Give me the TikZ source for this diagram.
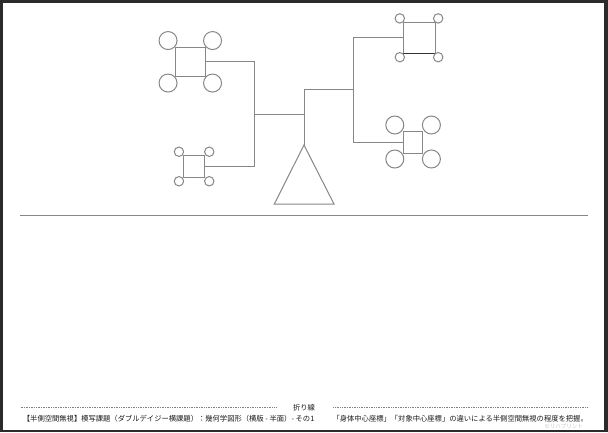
\documentclass[tikz,border=0pt]{standalone}
\usepackage{fontspec}
\usetikzlibrary{calc}
\newfontfamily\jp{Noto Sans CJK JP}
\begin{document}
\begin{tikzpicture}[x=1pt,y=-1pt,
  ln/.style={draw=black!47,line width=1pt},
  box/.style={draw=black!47,line width=1pt,rectangle,inner sep=0pt},
  bc/.style={draw=black!47,line width=1pt,circle,inner sep=0pt,minimum size=18pt},
  scirc/.style={draw=black!47,line width=1pt,circle,inner sep=0pt,minimum size=9.4pt},
  txt/.style={font=\jp\fontsize{7.3}{8}\selectfont,text=black!90,inner sep=0pt},
  dots/.style={draw=black!50,line width=0.5pt,dash pattern=on 0.5pt off 1.2pt}]
\useasboundingbox (0,0) rectangle (608,432);
\fill[black!83] (0,0) rectangle (608,432);
\fill[white] (3,3) rectangle (604,429.5);
% squares
\node[box,minimum width=29.5pt,minimum height=29.5pt] (A) at (190.3,61.8) {};
\node[box,minimum width=21.3pt,minimum height=21.3pt] (B) at (194.1,166.5) {};
\node[box,minimum width=32.4pt,minimum height=31pt] (C) at (419.5,37.8) {};
\draw[black!80,line width=1pt] (C.south west) -- (C.south east);
\node[box,minimum width=19.6pt,minimum height=22pt] (D) at (413.1,142) {};
% circles of A
\node[bc] (a1) at ($(A.north west)+(-7,-6)$) {};
\node[bc] (a2) at ($(A.north east)+(7,-6)$) {};
\node[bc] (a3) at ($(A.south west)+(-7,6)$) {};
\node[bc] (a4) at ($(A.south east)+(7,6)$) {};
% circles of B
\node[scirc] (b1) at ($(B.north west)+(-4,-3.6)$) {};
\node[scirc] (b2) at ($(B.north east)+(4,-3.6)$) {};
\node[scirc] (b3) at ($(B.south west)+(-4,3.6)$) {};
\node[scirc] (b4) at ($(B.south east)+(4,3.6)$) {};
% circles of C
\node[scirc] (c1) at ($(C.north west)+(-3,-3.4)$) {};
\node[scirc] (c2) at ($(C.north east)+(2,-3.4)$) {};
\node[scirc] (c3) at ($(C.south west)+(-3,3.4)$) {};
\node[scirc] (c4) at ($(C.south east)+(2,3.4)$) {};
% circles of D
\node[bc] (d1) at ($(D.north west)+(-8,-5.5)$) {};
\node[bc] (d2) at ($(D.north east)+(8,-5.5)$) {};
\node[bc] (d3) at ($(D.south west)+(-8,5.5)$) {};
\node[bc] (d4) at ($(D.south east)+(8,5.5)$) {};
% triangle
\coordinate (T1) at (304,145);
\coordinate (T2) at (334,204);
\coordinate (T3) at (274.3,204);
\draw[ln,line join=miter] (T1) -- (T2) -- (T3) -- cycle;
% junctions
\coordinate (J1) at (254.3,114.3);
\coordinate (J2) at (304,89.3);
\coordinate (J3) at (353.3,89.3);
\draw[ln] (A.east) -| (J1) |- (B.east);
\draw[ln] (J1) -- (J1 -| J2);
\draw[ln] (J2) -- (T1);
\draw[ln] (J2) -- (J3);
\draw[ln] (C.west) -| (J3) |- (D.west);
% horizon line
\coordinate (H1) at (20,215);
\coordinate (H2) at (588,215);
\draw[ln] (H1) -- (H2);
% fold line
\coordinate (F1) at (20.5,407.3);
\coordinate (F2) at (277,407.3);
\coordinate (F3) at (333.3,407.3);
\coordinate (F4) at (588.3,407.3);
\draw[dots] (F1) -- (F2);
\draw[dots] (F3) -- (F4);
\node[txt] (fold) at (304,407.7) {折り線};
\node[txt,anchor=west] (title) at (22.7,419) {【半側空間無視】模写課題（ダブルデイジー横課題）：幾何学図形（横版 - 半面）- その1};
\node[txt,anchor=east] (desc) at (588,419) {「身体中心座標」「対象中心座標」の違いによる半側空間無視の程度を把握。};
\node[txt,text=black!22,font=\jp\fontsize{5.5}{6}\selectfont,anchor=east] (wm) at (583,426) {©リハプリント};
\end{tikzpicture}
\end{document}
